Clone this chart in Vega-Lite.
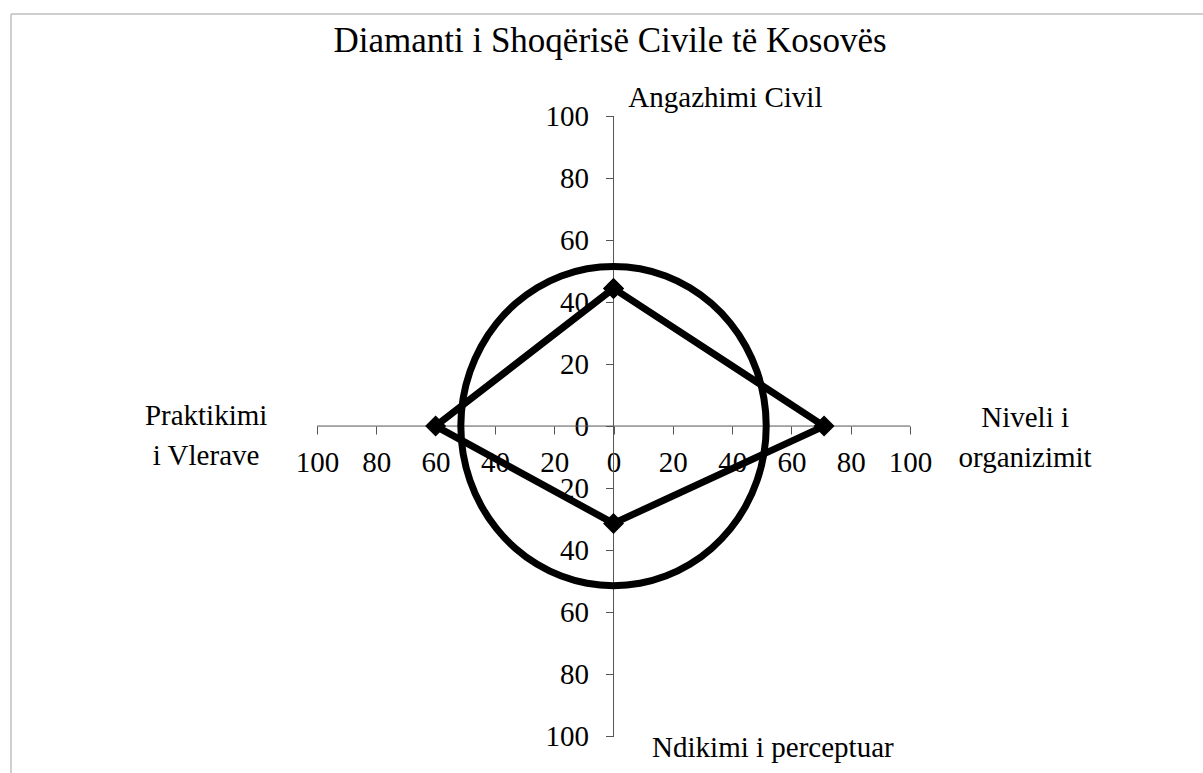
{
  "$schema": "https://vega.github.io/schema/vega-lite/v6.json",
  "autosize": {"type": "none"},
  "width": 1192,
  "height": 759,
  "padding": {"left": 11, "top": 14, "right": 0, "bottom": 0},
  "background": "white",
  "title": {
    "text": "Diamanti i Shoqërisë Civile të Kosovës",
    "font": "Liberation Serif",
    "fontSize": 35,
    "fontWeight": "normal",
    "color": "black",
    "anchor": "middle",
    "frame": "group",
    "baseline": "alphabetic",
    "offset": -36,
    "dy": 38,
    "dx": 3
  },
  "config": {
    "view": {"stroke": null},
    "font": "Liberation Serif"
  },
  "datasets": {
    "diamond": [
      {"i": 0, "dimension": "Angazhimi Civil", "x": 0, "y": 44.4},
      {"i": 1, "dimension": "Niveli i organizimit", "x": 71, "y": 0},
      {"i": 2, "dimension": "Ndikimi i perceptuar", "x": 0, "y": -31.4},
      {"i": 3, "dimension": "Praktikimi i Vlerave", "x": -60, "y": 0},
      {"i": 4, "dimension": "Angazhimi Civil", "x": 0, "y": 44.4}
    ],
    "circle": [
      {"i": 0, "x": 51.5, "y": 0},
      {"i": 1, "x": 50.72, "y": 8.94},
      {"i": 2, "x": 48.39, "y": 17.61},
      {"i": 3, "x": 44.6, "y": 25.75},
      {"i": 4, "x": 39.45, "y": 33.1},
      {"i": 5, "x": 33.1, "y": 39.45},
      {"i": 6, "x": 25.75, "y": 44.6},
      {"i": 7, "x": 17.61, "y": 48.39},
      {"i": 8, "x": 8.94, "y": 50.72},
      {"i": 9, "x": 0, "y": 51.5},
      {"i": 10, "x": -8.94, "y": 50.72},
      {"i": 11, "x": -17.61, "y": 48.39},
      {"i": 12, "x": -25.75, "y": 44.6},
      {"i": 13, "x": -33.1, "y": 39.45},
      {"i": 14, "x": -39.45, "y": 33.1},
      {"i": 15, "x": -44.6, "y": 25.75},
      {"i": 16, "x": -48.39, "y": 17.61},
      {"i": 17, "x": -50.72, "y": 8.94},
      {"i": 18, "x": -51.5, "y": 0},
      {"i": 19, "x": -50.72, "y": -8.94},
      {"i": 20, "x": -48.39, "y": -17.61},
      {"i": 21, "x": -44.6, "y": -25.75},
      {"i": 22, "x": -39.45, "y": -33.1},
      {"i": 23, "x": -33.1, "y": -39.45},
      {"i": 24, "x": -25.75, "y": -44.6},
      {"i": 25, "x": -17.61, "y": -48.39},
      {"i": 26, "x": -8.94, "y": -50.72},
      {"i": 27, "x": 0, "y": -51.5},
      {"i": 28, "x": 8.94, "y": -50.72},
      {"i": 29, "x": 17.61, "y": -48.39},
      {"i": 30, "x": 25.75, "y": -44.6},
      {"i": 31, "x": 33.1, "y": -39.45},
      {"i": 32, "x": 39.45, "y": -33.1},
      {"i": 33, "x": 44.6, "y": -25.75},
      {"i": 34, "x": 48.39, "y": -17.61},
      {"i": 35, "x": 50.72, "y": -8.94}
    ]
  },
  "layer": [
    {
      "data": {"values": [{}]},
      "mark": {"type": "rule", "color": "#555555", "strokeWidth": 1},
      "encoding": {
        "x": {
          "datum": -100,
          "type": "quantitative",
          "scale": {"domain": [-203.2, 198.8], "nice": false, "zero": false},
          "axis": {
            "title": null,
            "orient": "bottom",
            "offset": -347,
            "domain": false,
            "grid": false,
            "values": [-100, -80, -60, -40, -20, 0, 20, 40, 60, 80, 100],
            "labelExpr": "abs(datum.value)",
            "ticks": true,
            "tickSize": 8,
            "tickColor": "#555555",
            "tickWidth": 1,
            "labelFont": "Liberation Serif",
            "labelFontSize": 29,
            "labelColor": "black",
            "labelPadding": 14,
            "labelOverlap": false,
            "labelFlush": false,
            "labelBound": false
          }
        },
        "x2": {"datum": 100},
        "y": {
          "datum": 0,
          "type": "quantitative",
          "scale": {"domain": [-111.9, 132.9], "nice": false, "zero": false},
          "axis": {
            "title": null,
            "orient": "left",
            "offset": -602.5,
            "domain": false,
            "grid": false,
            "values": [-100, -80, -60, -40, -20, 0, 20, 40, 60, 80, 100],
            "labelExpr": "abs(datum.value)",
            "ticks": true,
            "tickSize": 8,
            "tickColor": "#555555",
            "tickWidth": 1,
            "labelFont": "Liberation Serif",
            "labelFontSize": 29,
            "labelColor": "black",
            "labelPadding": 17,
            "labelOverlap": false,
            "labelFlush": false,
            "labelBound": false
          }
        }
      }
    },
    {
      "data": {"values": [{}]},
      "mark": {"type": "rule", "color": "#555555", "strokeWidth": 1},
      "encoding": {
        "x": {"datum": 0, "type": "quantitative"},
        "y": {"datum": -100, "type": "quantitative"},
        "y2": {"datum": 100}
      }
    },
    {
      "data": {"values": [{}]},
      "mark": {"type": "rule", "color": "#bfbfbf", "strokeWidth": 1.5},
      "encoding": {
        "x": {"datum": -203.2, "type": "quantitative"},
        "x2": {"datum": 198.8},
        "y": {"datum": 132.9, "type": "quantitative"}
      }
    },
    {
      "data": {"values": [{}]},
      "mark": {"type": "rule", "color": "#bfbfbf", "strokeWidth": 1.5},
      "encoding": {
        "x": {"datum": -203.2, "type": "quantitative"},
        "y": {"datum": -111.9, "type": "quantitative"},
        "y2": {"datum": 132.9}
      }
    },
    {
      "data": {"name": "circle"},
      "mark": {"type": "line", "color": "black", "strokeWidth": 7, "interpolate": "cardinal-closed"},
      "encoding": {
        "x": {"field": "x", "type": "quantitative"},
        "y": {"field": "y", "type": "quantitative"},
        "order": {"field": "i", "type": "quantitative"}
      }
    },
    {
      "data": {"name": "diamond"},
      "mark": {"type": "line", "color": "black", "strokeWidth": 7, "strokeJoin": "round"},
      "encoding": {
        "x": {"field": "x", "type": "quantitative"},
        "y": {"field": "y", "type": "quantitative"},
        "order": {"field": "i", "type": "quantitative"}
      }
    },
    {
      "data": {"name": "diamond"},
      "mark": {"type": "point", "shape": "diamond", "filled": true, "color": "black", "size": 440, "opacity": 1},
      "encoding": {
        "x": {"field": "x", "type": "quantitative"},
        "y": {"field": "y", "type": "quantitative"}
      }
    },
    {
      "data": {"values": [{}]},
      "mark": {"type": "text", "font": "Liberation Serif", "fontSize": 29, "color": "black", "align": "left", "baseline": "alphabetic"},
      "encoding": {
        "x": {"datum": 5, "type": "quantitative"},
        "y": {"datum": 103, "type": "quantitative"},
        "text": {"value": "Angazhimi Civil"}
      }
    },
    {
      "data": {"values": [{}]},
      "mark": {"type": "text", "font": "Liberation Serif", "fontSize": 29, "color": "black", "align": "left", "baseline": "alphabetic"},
      "encoding": {
        "x": {"datum": 13, "type": "quantitative"},
        "y": {"datum": -106.8, "type": "quantitative"},
        "text": {"value": "Ndikimi i perceptuar"}
      }
    },
    {
      "data": {"values": [{}]},
      "mark": {"type": "text", "font": "Liberation Serif", "fontSize": 29, "color": "black", "align": "center", "baseline": "alphabetic", "lineHeight": 40},
      "encoding": {
        "x": {"datum": -137.4, "type": "quantitative"},
        "y": {"datum": 0.3, "type": "quantitative"},
        "text": {"value": ["Praktikimi", "i Vlerave"]}
      }
    },
    {
      "data": {"values": [{}]},
      "mark": {"type": "text", "font": "Liberation Serif", "fontSize": 29, "color": "black", "align": "center", "baseline": "alphabetic", "lineHeight": 40},
      "encoding": {
        "x": {"datum": 138.8, "type": "quantitative"},
        "y": {"datum": -0.3, "type": "quantitative"},
        "text": {"value": ["Niveli i", "organizimit"]}
      }
    }
  ]
}
